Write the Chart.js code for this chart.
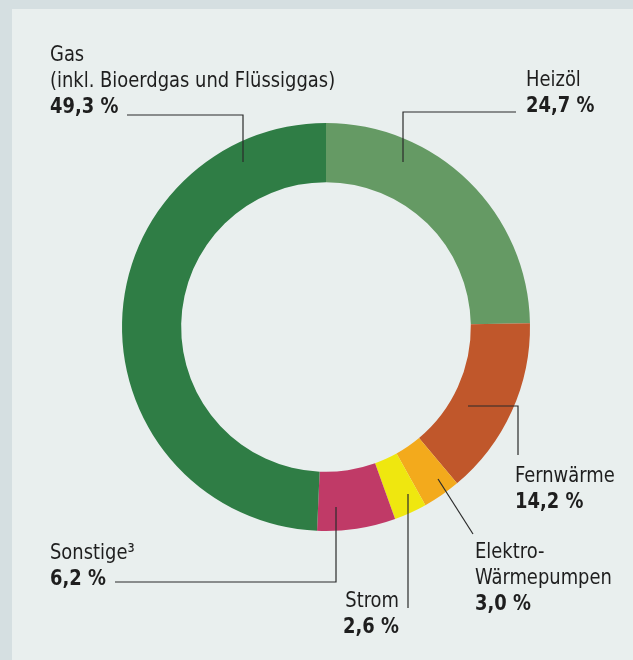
<!DOCTYPE html>
<html>
<head>
<meta charset="utf-8">
<script src="https://cdn.jsdelivr.net/npm/chart.js@4.4.1/dist/chart.umd.min.js"></script>
<style>
  html, body { margin: 0; padding: 0; background: #e9efee; }
  canvas { display: block; }
</style>
</head>
<body>
<canvas id="myChart" width="633" height="660"></canvas>
<script>
// data, clockwise from 12 o'clock
const categories = ['Heizöl', 'Fernwärme', 'Elektro-Wärmepumpen', 'Strom', 'Sonstige', 'Gas'];
const values = [24.7, 14.2, 3.0, 2.6, 6.2, 49.3];
const nameLines = [
  ['Heizöl'],
  ['Fernwärme'],
  ['Elektro-', 'Wärmepumpen'],
  ['Strom'],
  ['Sonstige³'],
  ['Gas', '(inkl. Bioerdgas und Flüssiggas)']
];
const colors = ['#659a64', '#c0572b', '#f3aa1c', '#efe70f', '#c03a67', '#2f7d45'];

// where each label sits (first baseline) and its leader line
const labelPos = [
  { x: 526, y: 86, align: 'left', line: [[403, 162], [403, 112], [516, 112]] },
  { x: 515, y: 482, align: 'left', line: [[468, 406], [518, 406], [518, 455]] },
  { x: 475, y: 558, align: 'left', line: [[438, 479], [473, 534]] },
  { x: 399, y: 607, align: 'right', line: [[408, 494], [408, 608]] },
  { x: 50, y: 559, align: 'left', line: [[336, 507], [336, 582], [115, 582]] },
  { x: 50, y: 61, align: 'left', line: [[243, 162], [243, 115], [127, 115]] }
];

const FONT = '"Liberation Sans Narrow", "Arial Narrow", "DejaVu Sans Condensed", sans-serif';
const SQUEEZE = 0.905; // horizontal squeeze to get the narrow look
const fmt = v => v.toFixed(1).replace('.', ',') + ' %';

const frame = {
  id: 'frame',
  beforeDraw(chart) {
    const c = chart.ctx;
    c.save();
    c.fillStyle = '#d5dfe1';
    c.fillRect(0, 0, chart.width, chart.height);
    c.fillStyle = '#e9efee';
    c.fillRect(12, 9, chart.width, chart.height);
    c.restore();
  }
};

function text(c, t, x, y) {
  c.save();
  c.translate(x, y);
  c.scale(SQUEEZE, 1);
  c.fillText(t, 0, 0);
  c.restore();
}

const labels = {
  id: 'labels',
  afterDraw(chart) {
    const c = chart.ctx;
    c.save();
    c.strokeStyle = '#2b2b2b';
    c.lineWidth = 1.2;
    labelPos.forEach((p, i) => {
      c.beginPath();
      p.line.forEach((pt, k) => k ? c.lineTo(pt[0], pt[1]) : c.moveTo(pt[0], pt[1]));
      c.stroke();

      c.fillStyle = '#1e1e1e';
      c.textAlign = p.align;
      c.textBaseline = 'alphabetic';
      let y = p.y;
      c.font = '22px ' + FONT;
      nameLines[i].forEach(t => { text(c, t, p.x, y); y += 26; });
      c.font = 'bold 22px ' + FONT;
      text(c, fmt(values[i]), p.x, y);
    });
    c.restore();
  }
};

new Chart(document.getElementById('myChart'), {
  type: 'doughnut',
  data: {
    labels: categories,
    datasets: [{
      data: values,
      backgroundColor: colors,
      borderWidth: 0
    }]
  },
  options: {
    responsive: false,
    animation: false,
    devicePixelRatio: 1,
    cutout: '71%',
    layout: { padding: { left: 122, top: 123, right: 103, bottom: 129 } },
    plugins: { legend: { display: false }, tooltip: { enabled: false } }
  },
  plugins: [frame, labels]
});
</script>
</body>
</html>
